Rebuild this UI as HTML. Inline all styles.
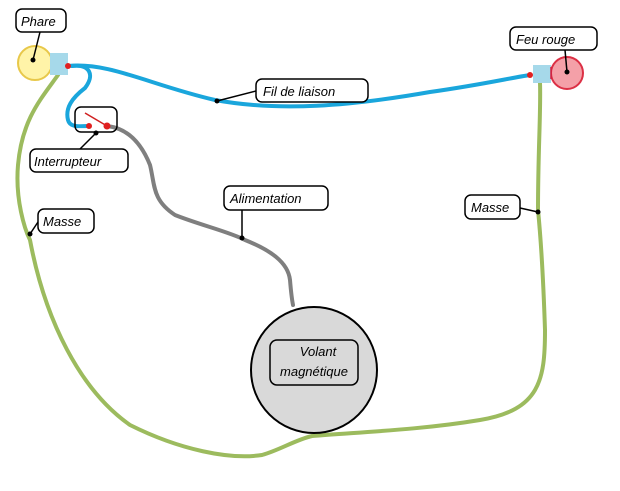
<!DOCTYPE html><html><head><style>body{margin:0;background:#fff}text{font-family:"Liberation Sans",sans-serif;font-style:italic;font-size:13px;fill:#000}</style></head><body>
<svg width="620" height="486" viewBox="0 0 620 486" xmlns="http://www.w3.org/2000/svg">
<g fill="none" stroke-linecap="round" stroke-linejoin="round">
<path d="M58 75 C40 100 22 120 18 165 C15 200 25 230 30 240 C45 320 80 390 130 425 C180 450 230 460 262 455 C280 450 295 440 312 436 C360 432 420 430 480 420 C540 410 545 380 545 330 C543 270 540 230 538 210 C538 150 541 110 540 83" stroke="#9cbb5e" stroke-width="4"/>
<path d="M68 66 C110 62 150 85 215 100 C280 112 350 106 430 92 C480 85 510 78 530 75" stroke="#1aa6dc" stroke-width="4"/>
<path d="M72 66 C90 64 95 75 85 88 C72 98 65 108 68 120 C70 128 80 126 89 126" stroke="#1aa6dc" stroke-width="4"/>
<path d="M107 126 C125 128 140 140 150 165 C155 185 152 200 175 215 C200 225 230 232 245 240 C270 250 288 262 290 280 C291 292 292 300 293 305" stroke="#7f7f7f" stroke-width="4"/>
</g>
<circle cx="35" cy="63" r="17" fill="#fff4a8" stroke="#e8c84a" stroke-width="2"/>
<rect x="50" y="53" width="18" height="22" fill="#a6d9ea"/>
<circle cx="567" cy="73" r="16" fill="#f4a0a8" stroke="#dc3045" stroke-width="2"/>
<rect x="533" y="65" width="18" height="18" fill="#a6d9ea"/>
<line x1="551" y1="67" x2="551" y2="79" stroke="#d02040" stroke-width="1.5"/>
<circle cx="68" cy="66" r="3" fill="#e02020"/><circle cx="530" cy="75" r="3" fill="#e02020"/>
<rect x="75" y="107" width="42" height="25" rx="6" fill="none" stroke="#000" stroke-width="1.5"/>
<line x1="85" y1="113" x2="107" y2="126" stroke="#d02020" stroke-width="1.5"/>
<circle cx="89" cy="126" r="3" fill="#e02020"/><circle cx="107" cy="126" r="3.5" fill="#e02020"/>
<circle cx="314" cy="370" r="63" fill="#d9d9d9" stroke="#000" stroke-width="2"/>
<rect x="270" y="340" width="88" height="45" rx="7" fill="none" stroke="#000" stroke-width="1.5"/>
<text x="318" y="356" text-anchor="middle">Volant</text>
<text x="314" y="376" text-anchor="middle">magnétique</text>
<g stroke="#000" stroke-width="1.5">
<line x1="40" y1="32" x2="33" y2="60"/><line x1="565" y1="50" x2="567" y2="72"/>
<line x1="256" y1="91" x2="217" y2="101"/><line x1="80" y1="149" x2="96" y2="133"/>
<line x1="242" y1="210" x2="242" y2="238"/><line x1="38" y1="222" x2="30" y2="234"/>
<line x1="520" y1="208" x2="538" y2="212"/>
</g>
<g fill="#000"><circle cx="33" cy="60" r="2.5"/><circle cx="567" cy="72" r="2.5"/><circle cx="217" cy="101" r="2.5"/><circle cx="96" cy="133" r="2.5"/><circle cx="242" cy="238" r="2.5"/><circle cx="30" cy="234" r="2.5"/><circle cx="538" cy="212" r="2.5"/></g>
<g fill="#fff" stroke="#000" stroke-width="1.5">
<rect x="16" y="9" width="50" height="23" rx="6"/><rect x="510" y="27" width="87" height="23" rx="6"/>
<rect x="256" y="79" width="112" height="23" rx="6"/><rect x="30" y="149" width="98" height="23" rx="6"/>
<rect x="224" y="186" width="104" height="24" rx="6"/><rect x="38" y="209" width="56" height="24" rx="6"/>
<rect x="465" y="195" width="55" height="24" rx="6"/>
</g>
<text x="21" y="26">Phare</text><text x="516" y="44">Feu rouge</text>
<text x="263" y="96">Fil de liaison</text><text x="34" y="166">Interrupteur</text>
<text x="230" y="203">Alimentation</text><text x="43" y="226">Masse</text><text x="471" y="212">Masse</text>
</svg></body></html>
